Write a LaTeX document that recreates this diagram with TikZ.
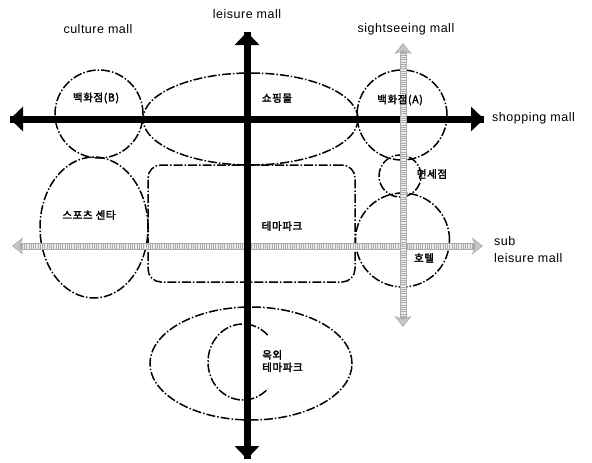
\documentclass[tikz,border=0pt]{standalone}
\usepackage{fontspec}
\setmainfont{Liberation Sans}[LetterSpace=4]
\newfontfamily\kr{Noto Sans CJK KR}[AutoFakeBold=2.5,LetterSpace=6]
\usetikzlibrary{arrows.meta,shapes.geometric}
\begin{document}
\begin{tikzpicture}[x=1pt,y=-1pt,
  zone/.style={draw=black, line width=1.5pt, dash pattern=on 9pt off 2pt on 1.5pt off 2pt, inner sep=0pt},
  axis/.style={line width=7pt, -{Triangle[length=13pt,width=24pt]}},
  hatch/.style={line width=7pt, draw=gray!65, {Stealth[length=11pt,width=17pt,inset=3pt,fill=gray!45,line width=0.6pt]}-{Stealth[length=11pt,width=17pt,inset=3pt,fill=gray!45,line width=0.6pt]}},
  hatchtex/.style={line width=5pt, draw=white!85!gray, dash pattern=on 0.8pt off 1pt, shorten <=11pt, shorten >=11pt},
  kt/.style={font=\kr\bfseries\fontsize{10.5}{12.5}\selectfont, inner sep=0pt},
  et/.style={font=\fontsize{12.5}{15}\selectfont, inner sep=0pt},
]
\useasboundingbox (0,0) rectangle (592,463);
% zones
\node[zone, circle, minimum size=88pt] (depB) at (99,114) {};
\node[zone, ellipse, minimum width=215pt, minimum height=92pt] (shop) at (250.5,119) {};
\node[zone, circle, minimum size=90pt] (depA) at (402,115) {};
\node[zone, circle, minimum size=42pt] (duty) at (400,176) {};
\node[zone, circle, minimum size=94pt] (hotel) at (402.5,240) {};
\node[zone, ellipse, minimum width=108pt, minimum height=141pt] (sport) at (94,227.5) {};
\node[zone, rectangle, rounded corners=13pt, minimum width=207pt, minimum height=117pt] (theme) at (251.5,223.5) {};
\node[zone, ellipse, minimum width=202pt, minimum height=113pt] (outdoor) at (251,363.5) {};
\draw[zone] (243,362) ++(-45:35 and 38) arc[start angle=-45, end angle=-315, x radius=35, y radius=38];
% axis end points
\coordinate (hL) at (12,246);
\coordinate (hR) at (483,246);
\coordinate (vT) at (403,43);
\coordinate (vB) at (403,327);
\coordinate (sL) at (10,119);
\coordinate (sR) at (484,119);
\coordinate (lT) at (247,32);
\coordinate (lB) at (247,459);
% hatched horizontal (under black vertical)
\draw[hatch] (hL) -- (hR);
\draw[hatchtex] (hL) -- (hR);
% black axes
\draw[axis] (sL) -- (sR);
\draw[axis] (sR) -- (sL);
\draw[axis] (lB) -- (lT);
\draw[axis] (lT) -- (lB);
% hatched vertical
\draw[hatch] (vB) -- (vT);
\draw[hatchtex] (vB) -- (vT);
% labels
\node[et] (lleis) at (247,14) {leisure mall};
\node[et] (lcult) at (98,29) {culture mall};
\node[et] (lsight) at (406,29) {sightseeing mall};
\node[et, anchor=west] (lshop) at (492,118) {shopping mall};
\node[et, anchor=west, align=left] (lsub) at (494,250) {sub\\[2pt]leisure mall};
\node[kt] (tdepB) at (96,98) {백화점(B)};
\node[kt] (tshop) at (277,98) {쇼핑몰};
\node[kt] (tdepA) at (400,100) {백화점(A)};
\node[kt] (tduty) at (432,174) {면세점};
\node[kt] (tsport) at (89,215) {스포츠 센타};
\node[kt] (ttheme) at (282,226) {테마파크};
\node[kt] (thotel) at (424,258) {호텔};
\node[kt, anchor=west, align=left] (tout) at (262,361) {옥외\\테마파크};
\end{tikzpicture}
\end{document}
